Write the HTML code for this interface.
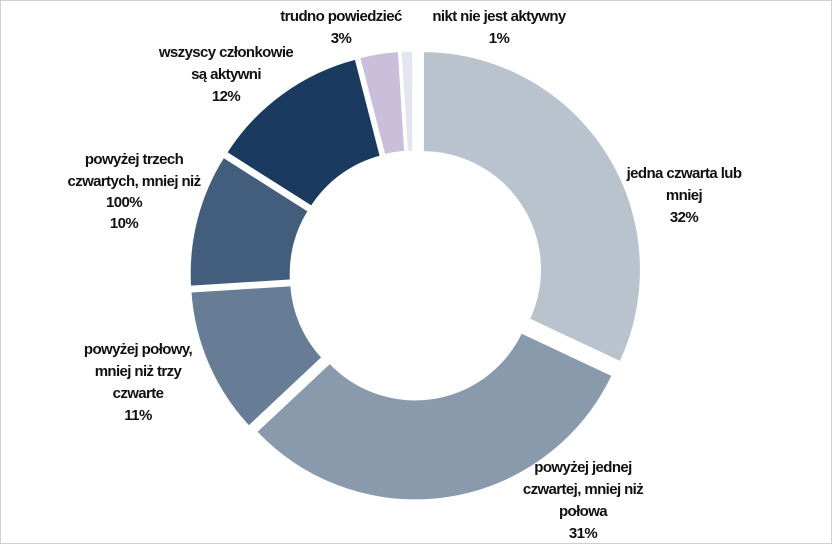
<!DOCTYPE html>
<html><head><meta charset="utf-8"><style>
html,body{margin:0;padding:0;background:#fff;}
#c{position:relative;width:832px;height:544px;overflow:hidden;border:1px solid #d0d0d0;box-sizing:border-box;}
svg{position:absolute;left:0;top:0;}
text{font-family:"Liberation Sans",sans-serif;font-weight:bold;font-size:15px;fill:#111;text-anchor:middle;letter-spacing:-0.6px;}
</style></head><body><div id="c">
<svg id="s" width="832" height="544" xmlns="http://www.w3.org/2000/svg"></svg>
<svg width="832" height="544" xmlns="http://www.w3.org/2000/svg">
<text x="340" y="20">trudno powiedzieć</text><text x="340" y="42">3%</text>
<text x="498" y="20">nikt nie jest aktywny</text><text x="498" y="42">1%</text>
<text x="225" y="56">wszyscy członkowie</text><text x="225" y="78">są aktywni</text><text x="225" y="100">12%</text>
<text x="133" y="163">powyżej trzech</text><text x="133" y="185">czwartych, mniej niż</text><text x="123" y="206">100%</text><text x="123" y="227">10%</text>
<text x="683" y="177">jedna czwarta lub</text><text x="683" y="199">mniej</text><text x="683" y="221">32%</text>
<text x="137" y="353">powyżej połowy,</text><text x="137" y="375">mniej niż trzy</text><text x="137" y="397">czwarte</text><text x="137" y="419">11%</text>
<text x="582" y="471">powyżej jednej</text><text x="582" y="493">czwartej, mniej niż</text><text x="582" y="515">połowa</text><text x="582" y="537">31%</text>
</svg>
</div>
<script>
var d=[[32,"#b8c3ce",10],[31,"#8a9aad",7],[11,"#677d96",6],[10,"#435d7c",6],[12,"#1b3a60",6],[3,"#c9bfdb",6],[1,"#e3e6ef",6]];
var cx=413,cy=274,R=219,r=117,a=0,h="";
function p(rad,ang,ox,oy){return [(cx+ox+rad*Math.sin(ang)).toFixed(2),(cy+oy-rad*Math.cos(ang)).toFixed(2)];}
d.forEach(function(s){
var a0=a*Math.PI/50,a1=(a+s[0])*Math.PI/50,m=(a0+a1)/2,ox=s[2]*Math.sin(m),oy=-s[2]*Math.cos(m);
var L=(a1-a0)>Math.PI?1:0;
var A=p(R,a0,ox,oy),B=p(R,a1,ox,oy),C=p(r,a1,ox,oy),D=p(r,a0,ox,oy);
h+='<path d="M'+A+' A'+R+' '+R+' 0 '+L+' 1 '+B+' L'+C+' A'+r+' '+r+' 0 '+L+' 0 '+D+' Z" fill="'+s[1]+'" stroke="#fff" stroke-width="3"/>';
a+=s[0];});
document.getElementById("s").innerHTML=h;
</script>
</body></html>
